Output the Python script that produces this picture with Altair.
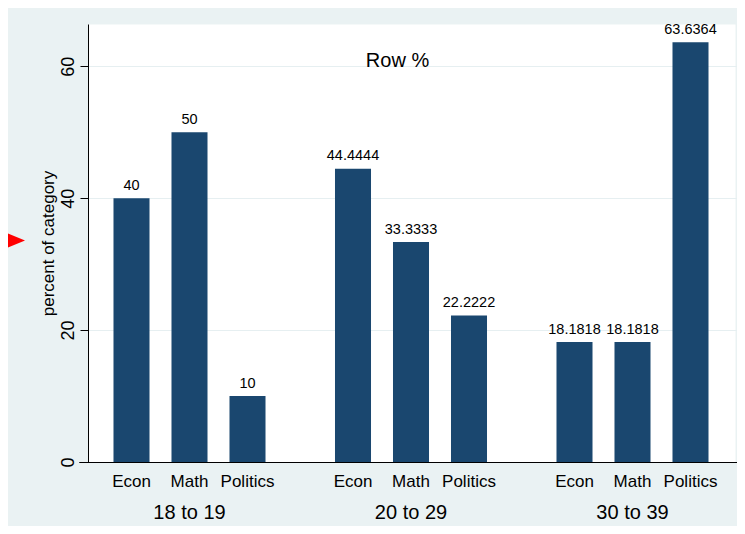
import altair as alt
import pandas as pd

# ---- data ----
groups = ["18 to 19", "20 to 29", "30 to 39"]
majors = ["Econ", "Math", "Politics"]
pct_18_19 = [40, 50, 10]
pct_20_29 = [44.4444, 33.3333, 22.2222]
pct_30_39 = [18.1818, 18.1818, 63.6364]
y_ticks = [0, 20, 40, 60]

rows = []
for g, vals in zip(groups, [pct_18_19, pct_20_29, pct_30_39]):
    for m, v in zip(majors, vals):
        rows.append({"group": g, "major": m, "pct": v})
df = pd.DataFrame(rows)

FONT = "Liberation Sans"
NAVY = "#1A476F"
BG = "#EAF2F3"
W, H = 647, 438

x_enc = alt.X(
    "group:N",
    sort=groups,
    scale=alt.Scale(range=[-9.25, 655.25], paddingInner=0, paddingOuter=0),
    axis=alt.Axis(
        title=None, labelAngle=0, ticks=False, tickSize=0, labelPadding=56,
        labelBaseline="alphabetic", labelFontSize=20, labelFont=FONT,
        labelColor="black", domainColor="black", domainWidth=1, grid=False,
    ),
)
xoff = alt.XOffset("major:N", sort=majors,
                   scale=alt.Scale(paddingInner=0.379, paddingOuter=0.599))
y_enc = alt.Y(
    "pct:Q",
    scale=alt.Scale(domain=[0, 66.4], nice=False),
    axis=alt.Axis(
        values=y_ticks, title="percent of category", labelAngle=270,
        tickSize=8, tickColor="black", domainColor="black", domainWidth=1,
        labelFontSize=18, labelFont=FONT, labelColor="black", labelPadding=3,
        titleFontSize=17, titleFont=FONT, titleFontWeight="normal",
        titleColor="black", titlePadding=2,
        grid=True, gridColor="#E6EFF1", gridWidth=1,
    ),
)

base = alt.Chart(df)

bars = base.mark_bar(color=NAVY).encode(x=x_enc, xOffset=xoff, y=y_enc)

values_txt = base.mark_text(
    font=FONT, fontSize=14.5, color="black", baseline="alphabetic", dy=-8.5
).encode(x=x_enc, xOffset=xoff, y=y_enc, text=alt.Text("pct:Q", format=".6~g"))

cat_txt = base.mark_text(
    font=FONT, fontSize=17, color="black", baseline="alphabetic"
).encode(x=x_enc, xOffset=xoff, y=alt.value(H + 24.7), text="major:N")

arrow = alt.Chart(pd.DataFrame({"a": [0]})).mark_point(
    shape="M -1 -0.83 L 1 0 L -1 0.83 Z", filled=True, color="#FF0000",
    opacity=1, size=2500, strokeWidth=0,
).encode(x=alt.value(-88), y=alt.value(216.5))

chart = (
    alt.layer(bars, values_txt, cat_txt, arrow)
    .properties(
        width=W, height=H,
        title=alt.TitleParams(
            "Row %", font=FONT, fontSize=20, fontWeight="normal", color="black",
            anchor="middle", frame="group", baseline="alphabetic",
            offset=0, dx=-14, dy=65,
        ),
        background=BG,
        padding={"left": 80, "top": 16, "right": 2, "bottom": 64},
        autosize=alt.AutoSizeParams(type="none"),
    )
    .configure_view(fill="white", stroke="transparent")
)

chart.save("out.html", embed_options={"renderer": "svg", "actions": False})
